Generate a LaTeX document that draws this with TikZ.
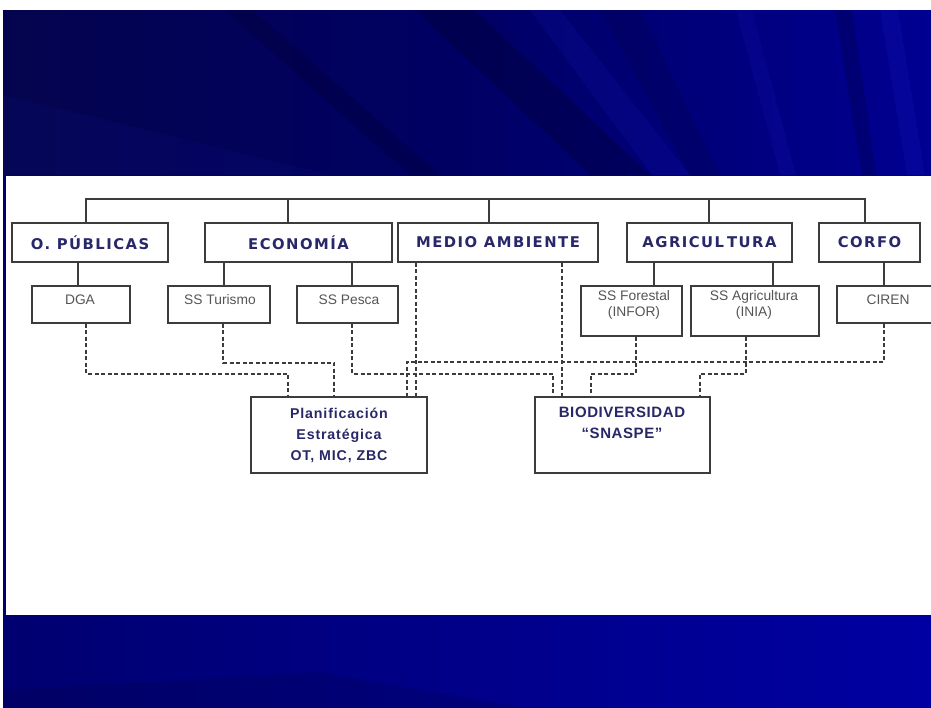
\documentclass[tikz,border=0pt]{standalone}
\usepackage{fontspec}
\setmainfont{Liberation Sans}
\newfontfamily\hfont[LetterSpace=10]{DejaVu Sans}
\newfontfamily\pfont[LetterSpace=6]{Liberation Sans}
\newfontfamily\bfontx[LetterSpace=4]{Liberation Sans}
\definecolor{navy}{RGB}{40,40,105}
\definecolor{lgray}{RGB}{85,85,85}
\definecolor{lcol}{RGB}{60,60,60}
\definecolor{bandL}{RGB}{4,4,78}
\definecolor{bandM}{RGB}{0,0,100}
\definecolor{bandR}{RGB}{0,0,145}
\definecolor{streakD}{RGB}{0,0,40}
\definecolor{streakL}{RGB}{30,30,200}
\definecolor{botL}{RGB}{0,0,112}
\definecolor{botR}{RGB}{0,0,162}
\begin{document}
\begin{tikzpicture}[x=1pt,y=1pt,
  box/.style={draw=lcol,line width=1.4pt,fill=white,inner sep=0pt,anchor=center},
  topbox/.style={box,minimum height=39pt,font=\hfont\bfseries\fontsize{14.8}{17}\selectfont,text=navy},
  subbox/.style={box,minimum height=37pt},
  subbox2/.style={box,minimum height=50pt},
  sublab/.style={inner sep=0pt,align=center,text=lgray,font=\fontsize{13.8}{16}\selectfont},
  botbox/.style={box,minimum height=76pt,minimum width=176pt,align=center,text=navy,
    font=\pfont\bfseries\fontsize{14.2}{21}\selectfont},
  botlab/.style={inner sep=0pt,align=center,text=navy,font=\bfontx\bfseries\fontsize{15}{21}\selectfont},
  conn/.style={draw=lcol,line width=1.4pt},
  dconn/.style={draw=lcol,line width=1.6pt,dash pattern=on 4pt off 2.5pt}
]
\useasboundingbox (0,0) rectangle (931,-707);
\clip (0,0) rectangle (931,-707);
\fill[white] (0,0) rectangle (931,-707);
% top band
\shade[left color=bandL,right color=bandR,middle color=bandM] (3,-10) rectangle (931,-175);
\fill[streakL,opacity=0.08] (3,-95) -- (3,-175) -- (330,-175) -- cycle;
\fill[streakD,opacity=0.25] (225,-10) -- (252,-10) -- (440,-175) -- (410,-175) -- cycle;
\fill[streakD,opacity=0.30] (415,-10) -- (475,-10) -- (650,-175) -- (590,-175) -- cycle;
\fill[streakL,opacity=0.15] (530,-10) -- (560,-10) -- (690,-175) -- (652,-175) -- cycle;
\fill[streakD,opacity=0.15] (600,-10) -- (640,-10) -- (720,-175) -- (690,-175) -- cycle;
\fill[streakL,opacity=0.15] (736,-10) -- (752,-10) -- (796,-175) -- (780,-175) -- cycle;
\fill[streakD,opacity=0.22] (835,-10) -- (852,-10) -- (876,-175) -- (862,-175) -- cycle;
\fill[streakL,opacity=0.18] (880,-10) -- (898,-10) -- (925,-175) -- (907,-175) -- cycle;
% bottom band
\shade[left color=botL,right color=botR] (3,-615) rectangle (931,-707);
\fill[streakD,opacity=0.15] (3,-690) -- (320,-672) -- (520,-707) -- (3,-707) -- cycle;
% left rule
\fill[botL] (3,-175) rectangle (6,-615);

% top-level boxes
\node[topbox,minimum width=156pt] (op)  at (90,-242.5)  {O. PÚBLICAS};
\node[topbox,minimum width=187pt] (eco) at (298.5,-242.5) {ECONOMÍA};
\node[topbox,minimum width=200pt] (med) at (498,-242.5) {MEDIO AMBIENTE};
\node[topbox,minimum width=165pt] (agr) at (709.5,-242.5) {AGRICUL\kern3pt TURA};
\node[topbox,minimum width=101pt] (cor) at (869.5,-242.5) {CORFO};

% second-level boxes
\node[subbox,minimum width=98pt]  (dga) at (81,-304.5) {};
\node[subbox,minimum width=102pt] (tur) at (219,-304.5) {};
\node[subbox,minimum width=101pt] (pes) at (347.5,-304.5) {};
\node[subbox2,minimum width=101pt] (for) at (631.5,-311) {};
\node[subbox2,minimum width=128pt] (sag) at (755,-311) {};
\node[subbox,minimum width=102pt] (cir) at (888,-304.5) {};
\node[sublab] (tdga) at (80,-300) {DGA};
\node[sublab] (ttur) at (220,-300) {SS Turismo};
\node[sublab] (tpes) at (349,-300) {SS Pesca};
\node[sublab] (tfor) at (634,-305) {SS Forestal\\(INFOR)};
\node[sublab] (tsag) at (754,-305) {SS Agricultura\\(INIA)};
\node[sublab] (tcir) at (888,-300) {CIREN};

% bottom boxes
\node[botbox] (pla) at (339,-435) {Planificación\\Estratégica\\OT, MIC, ZBC};
\node[box,minimum width=175pt,minimum height=76pt] (bio) at (622.5,-435) {};
\node[botlab] (tbio) at (622,-422.5) {BIODIVERSIDAD\\“SNASPE”};

% solid tree
\coordinate (b1) at (86,-199);
\coordinate (b2) at (288,-199);
\coordinate (b3) at (489,-199);
\coordinate (b4) at (709,-199);
\coordinate (b5) at (865,-199);
\draw[conn] (b1 |- op.north) -- (b1) -- (b5) -- (b5 |- cor.north);
\draw[conn] (b2) -- (b2 |- eco.north);
\draw[conn] (b3) -- (b3 |- med.north);
\draw[conn] (b4) -- (b4 |- agr.north);
\draw[conn] ([xshift=-12pt]op.south) -- ([xshift=-12pt]op.south |- dga.north);
\draw[conn] ([xshift=-74.5pt]eco.south) -- ([xshift=-74.5pt]eco.south |- tur.north);
\draw[conn] ([xshift=53.5pt]eco.south) -- ([xshift=53.5pt]eco.south |- pes.north);
\draw[conn] ([xshift=-55.5pt]agr.south) -- ([xshift=-55.5pt]agr.south |- for.north);
\draw[conn] ([xshift=63.5pt]agr.south) -- ([xshift=63.5pt]agr.south |- sag.north);
\draw[conn] ([xshift=14.5pt]cor.south) -- ([xshift=14.5pt]cor.south |- cir.north);

% dashed links
\draw[dconn] ([xshift=5pt]dga.south) -- ++(0,-50) -| ([xshift=-51pt]pla.north);
\draw[dconn] ([xshift=4pt]tur.south) -- ++(0,-39) -| ([xshift=-5pt]pla.north);
\draw[dconn] ([xshift=4.5pt]pes.south) -- ++(0,-50) -| ([xshift=-69.5pt]bio.north);
\draw[dconn] ([xshift=-82pt]med.south) -- ([xshift=-82pt]med.south |- pla.north);
\draw[dconn] ([xshift=64pt]med.south) -- ([xshift=64pt]med.south |- bio.north);
\draw[dconn] ([xshift=4.5pt]for.south) -- ++(0,-37) -| ([xshift=-31.5pt]bio.north);
\draw[dconn] ([xshift=-9pt]sag.south) -- ++(0,-37) -| ([xshift=77.5pt]bio.north);
\draw[dconn] ([xshift=-4pt]cir.south) -- ++(0,-38) -| ([xshift=68pt]pla.north);
\end{tikzpicture}
\end{document}
